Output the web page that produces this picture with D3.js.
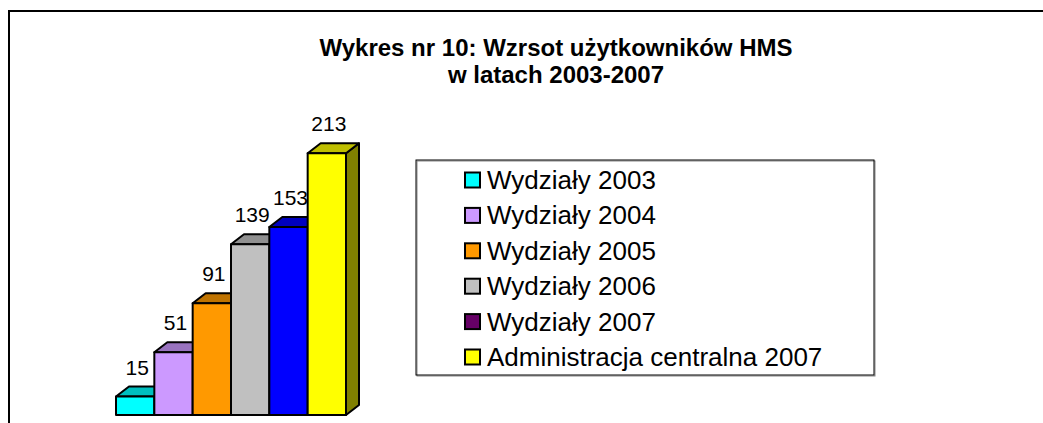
<!DOCTYPE html>
<html>
<head>
<meta charset="utf-8">
<script src="https://cdn.jsdelivr.net/npm/d3@7"></script>
<style>
  body { margin: 0; background: #fff; }
  text { font-family: "Liberation Sans", Arial, sans-serif; }
</style>
</head>
<body>
<script>
const width = 1043;
const height = 423;

const titleLines = ['Wykres nr 10: Wzrsot użytkowników HMS', 'w latach 2003-2007'];
const categories = ['Wydziały 2003', 'Wydziały 2004', 'Wydziały 2005', 'Wydziały 2006', 'Wydziały 2007', 'Administracja centralna 2007'];
const values = [15, 51, 91, 139, 153, 213];
const barColors = ['#00FFFF', '#CC99FF', '#FF9900', '#C0C0C0', '#0000FF', '#FFFF00'];
const legendColors = ['#00FFFF', '#CC99FF', '#FF9900', '#C0C0C0', '#660066', '#FFFF00'];

const depth = { dx: 13, dy: 10 };

const svg = d3.select('body')
  .append('svg')
  .attr('width', width)
  .attr('height', height);

// outer chart frame, runs past the right and bottom edges
svg.append('rect')
  .attr('x', 9)
  .attr('y', 11)
  .attr('width', 1100)
  .attr('height', 500)
  .attr('fill', 'none')
  .attr('stroke', '#000')
  .attr('stroke-width', 2);

svg.append('text')
  .attr('text-anchor', 'middle')
  .attr('font-weight', 'bold')
  .attr('font-size', 24)
  .selectAll('tspan')
  .data(titleLines)
  .enter()
  .append('tspan')
  .attr('x', 556)
  .attr('y', (d, i) => 56 + i * 27)
  .text(d => d);

const x = d3.scaleBand()
  .domain(categories)
  .range([116, 346])
  .padding(0);

const y = d3.scaleLinear()
  .domain([0, 250])
  .range([415, 107.8]);

const shade = (c, k) => {
  const rgb = d3.rgb(c);
  return d3.rgb(rgb.r * k, rgb.g * k, rgb.b * k).formatHex();
};

const bars = svg.append('g')
  .selectAll('g')
  .data(values.map((v, i) => ({ v, cat: categories[i], color: barColors[i] })))
  .enter()
  .append('g');

const faceStyle = sel => sel
  .attr('stroke', '#000')
  .attr('stroke-width', 2)
  .attr('stroke-linejoin', 'round');

// side face
bars.append('path')
  .attr('d', d => {
    const x1 = x(d.cat) + x.bandwidth();
    const y0 = y(0), y1 = y(d.v);
    return `M${x1},${y1}L${x1 + depth.dx},${y1 - depth.dy}L${x1 + depth.dx},${y0 - depth.dy}L${x1},${y0}Z`;
  })
  .attr('fill', d => shade(d.color, 0.5))
  .call(faceStyle);

// top face
bars.append('path')
  .attr('d', d => {
    const x0 = x(d.cat), x1 = x0 + x.bandwidth();
    const y1 = y(d.v);
    return `M${x0},${y1}L${x0 + depth.dx},${y1 - depth.dy}L${x1 + depth.dx},${y1 - depth.dy}L${x1},${y1}Z`;
  })
  .attr('fill', d => shade(d.color, 0.75))
  .call(faceStyle);

// front face
bars.append('rect')
  .attr('x', d => x(d.cat))
  .attr('y', d => y(d.v))
  .attr('width', x.bandwidth())
  .attr('height', d => y(0) - y(d.v))
  .attr('fill', d => d.color)
  .call(faceStyle);

bars.append('text')
  .attr('x', d => x(d.cat) + x.bandwidth() / 2 + 2)
  .attr('y', d => y(d.v) - 22)
  .attr('text-anchor', 'middle')
  .attr('font-size', 21)
  .text(d => d.v);

// legend
const legend = svg.append('g');

legend.append('rect')
  .attr('x', 417)
  .attr('y', 161)
  .attr('width', 458)
  .attr('height', 215)
  .attr('fill', 'none')
  .attr('stroke', '#888')
  .attr('stroke-width', 1);

legend.append('rect')
  .attr('x', 416)
  .attr('y', 160)
  .attr('width', 458)
  .attr('height', 215)
  .attr('fill', 'none')
  .attr('stroke', '#000')
  .attr('stroke-width', 1);

const items = legend.selectAll('g.item')
  .data(categories)
  .enter()
  .append('g')
  .attr('class', 'item')
  .attr('transform', (d, i) => `translate(0,${180 + i * 35.4})`);

items.append('rect')
  .attr('x', 465)
  .attr('y', -7.5)
  .attr('width', 15)
  .attr('height', 15)
  .attr('fill', (d, i) => legendColors[i])
  .attr('stroke', '#000')
  .attr('stroke-width', 2);

items.append('text')
  .attr('x', 487)
  .attr('y', 9)
  .attr('font-size', 26)
  .text(d => d);
</script>
</body>
</html>
